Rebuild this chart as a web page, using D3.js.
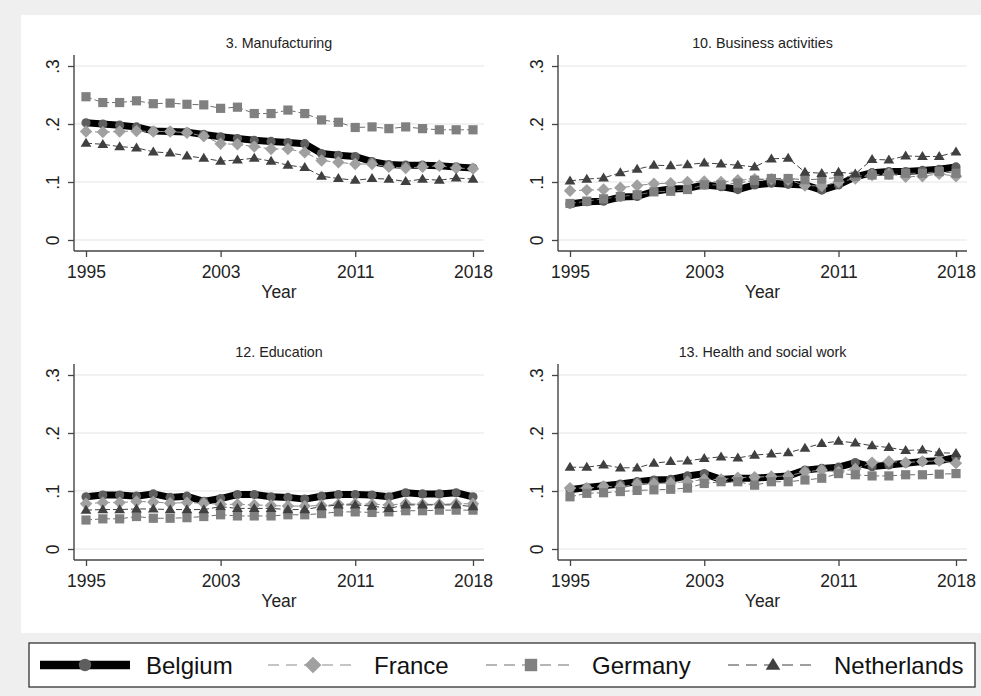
<!DOCTYPE html>
<html><head><meta charset="utf-8">
<script src="https://cdn.jsdelivr.net/npm/d3@7"></script>
<style>
html,body{margin:0;padding:0;background:#efefef;}
svg{display:block;font-family:"Liberation Sans",Arial,sans-serif;}
</style></head>
<body>
<svg id="chart" width="981" height="696"></svg>
<script>
const years = [1995,1996,1997,1998,1999,2000,2001,2002,2003,2004,2005,2006,2007,2008,2009,2010,2011,2012,2013,2014,2015,2016,2017,2018];
const xTicks = [1995,2003,2011,2018];
const yTicks = [0,0.1,0.2,0.3];
const yTickLabels = ["0",".1",".2",".3"];
const countries = ["Belgium","France","Germany","Netherlands"];
const panelTitles = ["3. Manufacturing","10. Business activities","12. Education","13. Health and social work"];

const manuBelgium = [0.202,0.200,0.198,0.195,0.188,0.187,0.186,0.182,0.178,0.175,0.172,0.170,0.168,0.166,0.149,0.146,0.144,0.135,0.130,0.129,0.129,0.128,0.126,0.124];
const manuFrance = [0.187,0.186,0.187,0.188,0.187,0.187,0.185,0.179,0.166,0.165,0.161,0.157,0.157,0.151,0.137,0.134,0.131,0.131,0.126,0.124,0.126,0.128,0.124,0.123];
const manuGermany = [0.247,0.237,0.237,0.240,0.235,0.236,0.234,0.233,0.227,0.229,0.218,0.218,0.224,0.218,0.207,0.203,0.194,0.195,0.192,0.195,0.192,0.190,0.190,0.190];
const manuNetherlands = [0.167,0.165,0.161,0.159,0.152,0.150,0.145,0.141,0.136,0.138,0.141,0.136,0.129,0.125,0.110,0.106,0.103,0.106,0.105,0.101,0.105,0.103,0.107,0.105];

const busBelgium = [0.062,0.066,0.067,0.074,0.075,0.084,0.088,0.089,0.095,0.092,0.087,0.095,0.098,0.096,0.095,0.086,0.095,0.109,0.116,0.118,0.118,0.120,0.122,0.126];
const busFrance = [0.085,0.086,0.087,0.090,0.094,0.097,0.098,0.100,0.101,0.100,0.103,0.105,0.105,0.104,0.094,0.093,0.100,0.106,0.112,0.114,0.109,0.110,0.114,0.110];
const busGermany = [0.063,0.067,0.071,0.075,0.078,0.083,0.084,0.087,0.095,0.095,0.098,0.103,0.106,0.106,0.104,0.105,0.108,0.110,0.112,0.112,0.115,0.115,0.118,0.115];
const busNetherlands = [0.102,0.105,0.107,0.116,0.122,0.129,0.128,0.130,0.133,0.131,0.129,0.126,0.140,0.141,0.117,0.115,0.117,0.114,0.139,0.138,0.145,0.144,0.144,0.152];

const eduBelgium = [0.090,0.093,0.093,0.091,0.095,0.089,0.091,0.082,0.087,0.094,0.094,0.090,0.089,0.086,0.091,0.094,0.094,0.093,0.090,0.097,0.095,0.095,0.097,0.090];
const eduFrance = [0.078,0.080,0.080,0.082,0.081,0.079,0.080,0.079,0.077,0.077,0.076,0.075,0.074,0.074,0.075,0.077,0.078,0.077,0.076,0.078,0.077,0.077,0.078,0.078];
const eduGermany = [0.050,0.052,0.052,0.056,0.053,0.053,0.054,0.056,0.059,0.057,0.057,0.057,0.059,0.059,0.061,0.064,0.064,0.063,0.064,0.066,0.066,0.067,0.067,0.067];
const eduNetherlands = [0.067,0.068,0.068,0.069,0.069,0.068,0.068,0.068,0.073,0.070,0.070,0.070,0.068,0.068,0.073,0.076,0.076,0.074,0.070,0.076,0.076,0.076,0.076,0.073];

const healthBelgium = [0.102,0.106,0.109,0.112,0.116,0.119,0.120,0.126,0.130,0.120,0.122,0.122,0.124,0.126,0.136,0.139,0.141,0.149,0.142,0.145,0.148,0.151,0.152,0.158];
const healthFrance = [0.105,0.105,0.108,0.107,0.112,0.113,0.114,0.116,0.120,0.120,0.123,0.124,0.125,0.126,0.133,0.136,0.133,0.138,0.149,0.151,0.149,0.151,0.152,0.148];
const healthGermany = [0.090,0.096,0.097,0.099,0.101,0.102,0.103,0.105,0.113,0.116,0.116,0.110,0.116,0.116,0.119,0.122,0.130,0.128,0.126,0.126,0.128,0.128,0.129,0.130];
const healthNetherlands = [0.141,0.141,0.145,0.140,0.140,0.148,0.151,0.152,0.156,0.159,0.157,0.162,0.164,0.166,0.174,0.182,0.186,0.183,0.178,0.175,0.170,0.171,0.166,0.165];

const panelSeries = [
  [manuBelgium, manuFrance, manuGermany, manuNetherlands],
  [busBelgium, busFrance, busGermany, busNetherlands],
  [eduBelgium, eduFrance, eduGermany, eduNetherlands],
  [healthBelgium, healthFrance, healthGermany, healthNetherlands]
];

// styles
const styles = [
  {line:"#000", lw:7, dash:null, marker:"circle", fill:"#5e5e5e", lineOpacity:1},
  {line:"#8c8c8c", lw:1, dash:"6,3", marker:"diamond", fill:"#a0a0a0"},
  {line:"#6e6e6e", lw:1, dash:"6,3", marker:"square", fill:"#808080"},
  {line:"#404040", lw:1, dash:"6,3", marker:"triangle", fill:"#404040"}
];

function markerPath(type, s) {
  // s = scale factor
  const p = d3.path();
  if (type === "circle") { const r = 4.6*s; p.moveTo(r,0); p.arc(0,0,r,0,2*Math.PI); }
  else if (type === "square") { const h = 4.6*s; p.rect(-h,-h,2*h,2*h); }
  else if (type === "diamond") { const h = 6.2*s; p.moveTo(0,-h); p.lineTo(h,0); p.lineTo(0,h); p.lineTo(-h,0); p.closePath(); }
  else if (type === "triangle") { const w = 5.4*s, ht = 9*s; p.moveTo(0,-ht*0.6); p.lineTo(w,ht*0.4); p.lineTo(-w,ht*0.4); p.closePath(); }
  return p.toString();
}

const svg = d3.select("#chart");
svg.append("rect").attr("x",0).attr("y",0).attr("width",981).attr("height",696).attr("fill","#efefef");
svg.append("rect").attr("x",21).attr("y",15).attr("width",960).attr("height",618).attr("fill","#ffffff");

const colLeft = [74, 558];
const rowTop = [55, 364];
const plotW = 410, plotH = 196;

panelSeries.forEach((series, pi) => {
  const left = colLeft[pi % 2], top = rowTop[Math.floor(pi/2)];
  const right = left + (pi % 2 === 0 ? 410 : 409);
  const bottom = top + plotH;
  const x = d3.scaleLinear().domain([1995,2018]).range([left+12, right-11]);
  const y = d3.scaleLinear().domain([0,0.3]).range([bottom-11, top+11]);
  const g = svg.append("g");

  // gridlines
  g.append("g").selectAll("line").data(yTicks).join("line")
    .attr("x1", left).attr("x2", right)
    .attr("y1", d => y(d)).attr("y2", d => y(d))
    .attr("stroke", "#e6e6e6").attr("stroke-width", 1.2);

  // title
  g.append("text").attr("x", (left+right)/2).attr("y", top - 7.5)
    .attr("text-anchor","middle").attr("font-size", 14.3).attr("fill","#222")
    .text(panelTitles[pi]);

  // axes
  const yAxis = d3.axisLeft(y).tickValues(yTicks).tickSize(6).tickPadding(0)
    .tickFormat((d,i) => yTickLabels[i]);
  const ya = g.append("g").attr("transform", `translate(${left},0)`).call(yAxis);
  ya.select(".domain").remove();
  ya.selectAll(".tick line").attr("stroke","#444").attr("stroke-width",1.3);
  ya.selectAll(".tick text").attr("font-size",17.5).attr("fill","#222")
    .attr("font-family","Liberation Sans, Arial, sans-serif")
    .attr("text-anchor","middle").attr("dy",0)
    .attr("transform","translate(-15,0) rotate(-90)").attr("x",0).attr("y",0);

  const xAxis = d3.axisBottom(x).tickValues(xTicks).tickSize(6).tickFormat(d3.format("d"));
  const xa = g.append("g").attr("transform", `translate(0,${bottom})`).call(xAxis);
  xa.select(".domain").remove();
  xa.selectAll(".tick line").attr("stroke","#444").attr("stroke-width",1.3);
  xa.selectAll(".tick text").attr("font-size",17.5).attr("fill","#222")
    .attr("font-family","Liberation Sans, Arial, sans-serif")
    .attr("dy",0).attr("y",27);

  g.append("line").attr("x1",left).attr("x2",left).attr("y1",top).attr("y2",bottom)
    .attr("stroke","#444").attr("stroke-width",1.4);
  g.append("line").attr("x1",left).attr("x2",right).attr("y1",bottom).attr("y2",bottom)
    .attr("stroke","#444").attr("stroke-width",1.4);

  g.append("text").attr("x",(left+right)/2).attr("y", bottom + 47)
    .attr("text-anchor","middle").attr("font-size",17.5).attr("fill","#222").text("Year");

  // series
  series.forEach((vals, si) => {
    const st = styles[si];
    const data = years.map((yr,i) => [yr, vals[i]]);
    const line = d3.line().x(d => x(d[0])).y(d => y(d[1])).curve(d3.curveLinear);
    g.append("path").attr("d", line(data)).attr("fill","none")
      .attr("stroke", st.line).attr("stroke-width", st.lw)
      .attr("stroke-linejoin","round")
      .attr("stroke-dasharray", st.dash);
    g.append("g").selectAll("path").data(data).join("path")
      .attr("d", markerPath(st.marker, 1))
      .attr("transform", d => `translate(${x(d[0])},${y(d[1])})`)
      .attr("fill", st.fill);
  });
});

// legend
const lg = svg.append("g");
lg.append("rect").attr("x",29).attr("y",643).attr("width",946).attr("height",44)
  .attr("fill","#fff").attr("stroke","#333").attr("stroke-width",1.3);
const legendItems = [
  {x0:40, x1:130, tx:146},
  {x0:268, x1:358, tx:374},
  {x0:486, x1:576, tx:592},
  {x0:728, x1:818, tx:834}
];
countries.forEach((c, i) => {
  const st = styles[i], it = legendItems[i];
  const cy = 665;
  lg.append("line").attr("x1",it.x0).attr("x2",it.x1).attr("y1",cy).attr("y2",cy)
    .attr("stroke", i===0 ? "#000" : st.line).attr("stroke-width", i===0 ? 8.5 : 1.2)
    .attr("stroke-dasharray", i===0 ? null : "11,7");
  lg.append("path").attr("d", markerPath(st.marker, 1.35))
    .attr("transform", `translate(${(it.x0+it.x1)/2},${cy})`).attr("fill", st.fill);
  lg.append("text").attr("x", it.tx).attr("y", 674).attr("font-size",24).attr("fill","#111").text(c);
});
</script>
</body></html>
